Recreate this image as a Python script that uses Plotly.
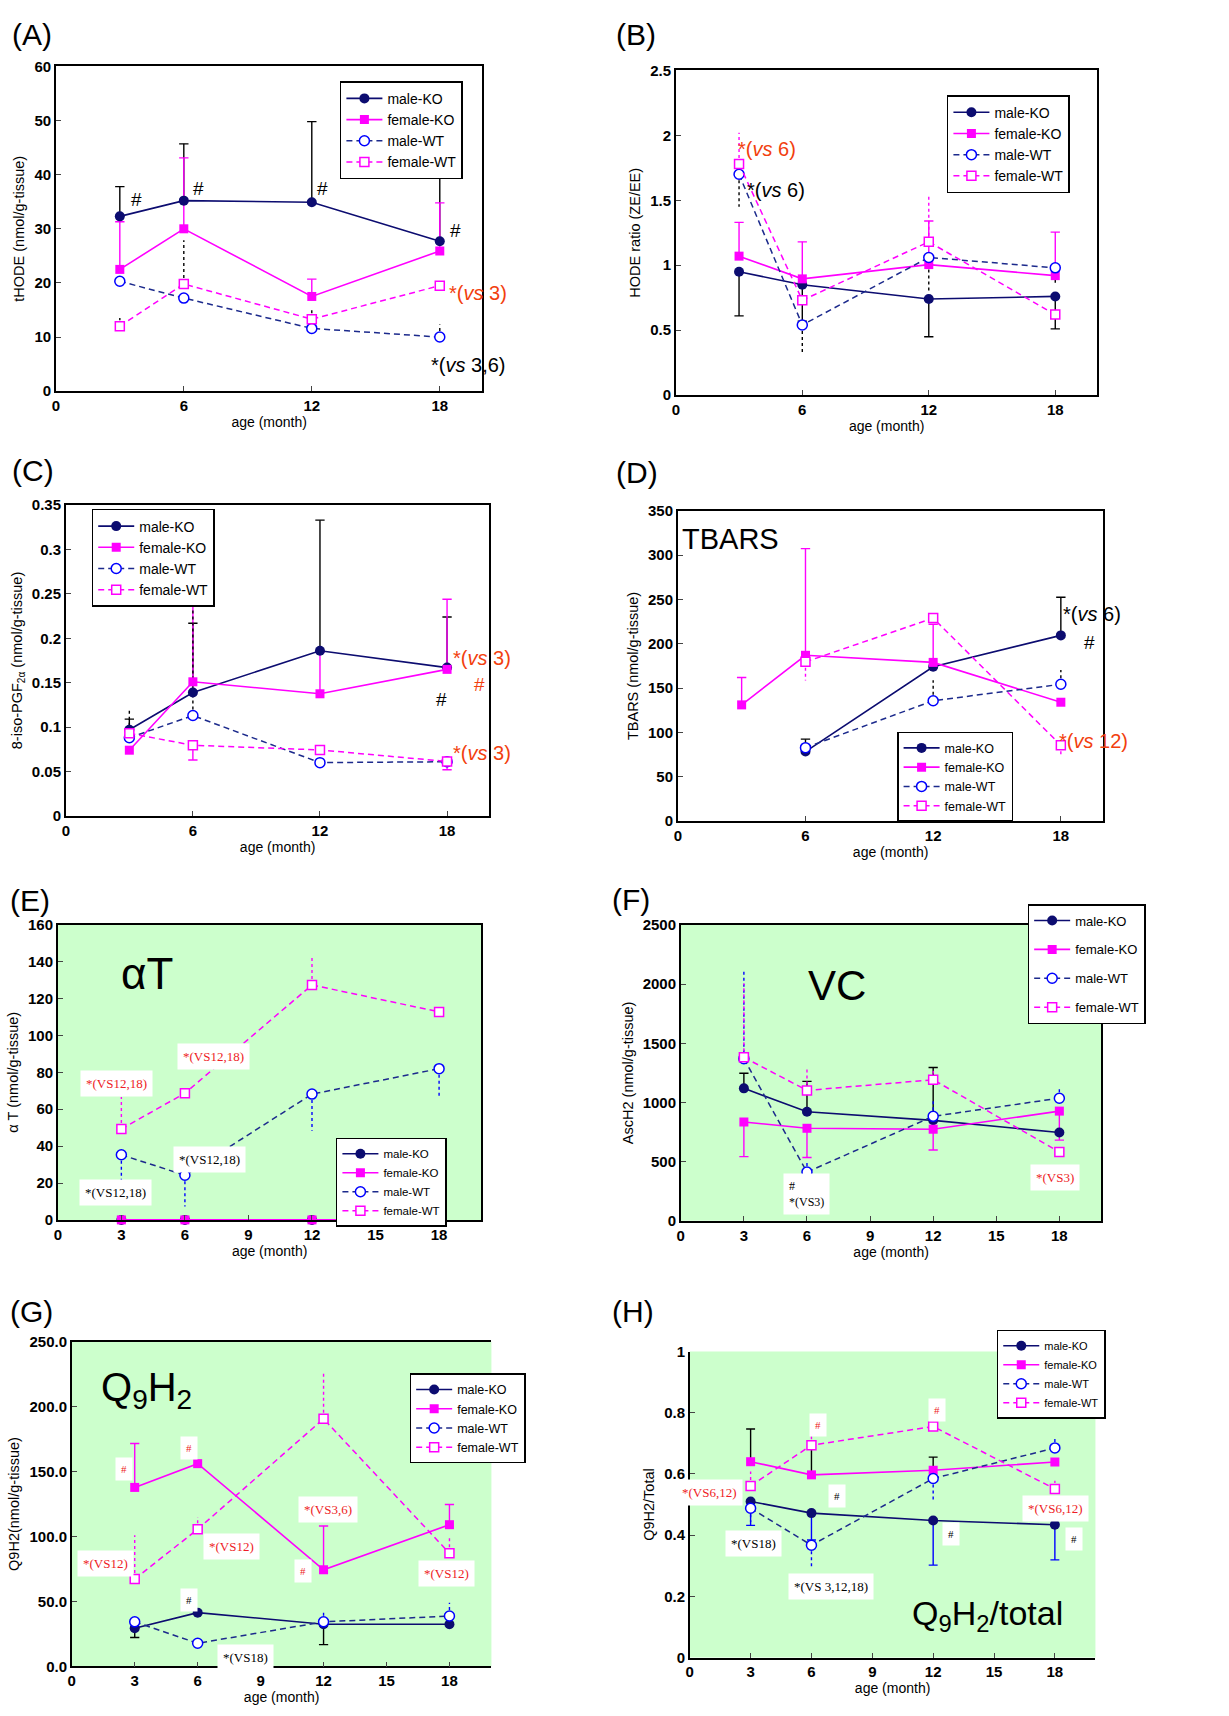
import plotly.graph_objects as go

W, H = 1229, 1716

AGES = [3, 6, 12, 18]
SERIES = ["male-KO", "female-KO", "male-WT", "female-WT"]
X_TICKS_AD = [0, 6, 12, 18]
X_TICKS_EH = [0, 3, 6, 9, 12, 15, 18]

# (A) tHODE
A_male_KO = [32.3, 35.2, 34.9, 27.7]
A_female_KO = [22.5, 30.0, 17.5, 25.9]
A_male_WT = [20.3, 17.2, 11.6, 10.0]
A_female_WT = [12.0, 19.8, 13.3, 19.5]
A_male_KO_sd = [5.5, 10.5, 14.9, 12.4]
A_female_KO_sd = [8.8, 13.1, 3.2, 8.9]
A_male_WT_sd = [None, None, None, 2.3]
A_female_WT_sd = [1.5, 8.1, 1.8, 1.0]

# (B) HODE ratio
B_male_KO = [0.95, 0.85, 0.74, 0.76]
B_female_KO = [1.07, 0.895, 1.005, 0.92]
B_male_WT = [1.70, 0.54, 1.06, 0.98]
B_female_WT = [1.78, 0.73, 1.18, 0.62]
B_male_KO_sd = [-0.34, -0.28, -0.29, -0.25]
B_female_KO_sd = [0.26, 0.285, 0.335, 0.335]
B_male_WT_sd = [-0.25, -0.22, -0.26, -0.12]
B_female_WT_sd = [0.24, None, 0.35, None]

# (C) 8-iso-PGF2a
C_male_KO = [0.097, 0.139, 0.186, 0.167]
C_female_KO = [0.074, 0.151, 0.1375, 0.165]
C_male_WT = [0.088, 0.113, 0.060, 0.061]
C_female_WT = [0.093, 0.0795, 0.0743, 0.0613]
C_male_KO_sd = [0.012, 0.078, 0.147, 0.057]
C_female_KO_sd = [None, 0.088, 0.047, 0.079]
C_male_WT_sd = [0.033, 0.12, None, None]
C_female_WT_sd = [None, -0.0165, None, -0.0093]

# (D) TBARS
D_male_KO = [None, 78.3, 174, 209.5]
D_female_KO = [131, 187, 179, 134]
D_male_WT = [None, 82.7, 135.7, 154.3]
D_female_WT = [None, 179.6, 229, 85.4]
D_male_KO_sd = [None, 14, None, 43]
D_female_KO_sd = [31, 120.5, 43, None]
D_male_WT_sd = [None, None, 23, 16]
D_female_WT_sd = [None, -21, None, -11]

# (E) alpha-T
E_male_KO = [0, 0, 0, 0]
E_female_KO = [0, 0, 0, 0]
E_male_WT = [35.3, 24.2, 68.2, 82.0]
E_female_WT = [49.3, 68.7, 127.4, 112.8]
E_male_KO_sd = [None, None, None, None]
E_female_KO_sd = [None, None, None, None]
E_male_WT_sd = [-13.8, -17.0, -19.8, -15.6]
E_female_WT_sd = [17.4, None, 15.6, None]

# (F) VC (AscH2)
F_male_KO = [1119, 921, 849, 746]
F_female_KO = [835, 782, 774, 927]
F_male_WT = [1370, 412, 883, 1036]
F_female_WT = [1381, 1102, 1192, 582]
F_male_KO_sd = [128, 257, 446, None]
F_female_KO_sd = [-292, -247, -175, -245]
F_male_WT_sd = [740, 100, 133, 97]
F_female_WT_sd = [623, 179, 89, None]

# (G) Q9H2
G_male_KO = [29.4, 41.4, 32.5, 32.5]
G_female_KO = [137.8, 156.1, 74.4, 109.1]
G_male_WT = [34.3, 17.8, 34.3, 38.8]
G_female_WT = [67.3, 105.6, 190.6, 87.1]
G_male_KO_sd = [-7.1, None, -15.7, None]
G_female_KO_sd = [33.8, None, 33.7, 15.5]
G_male_WT_sd = [None, -4.3, 8.8, 10.2]
G_female_WT_sd = [33.7, 9.4, 34.8, 13.9]

# (H) Q9H2/total
H_male_KO = [0.510, 0.472, 0.448, 0.434]
H_female_KO = [0.640, 0.597, 0.612, 0.639]
H_male_WT = [0.488, 0.367, 0.585, 0.685]
H_female_WT = [0.561, 0.694, 0.755, 0.551]
H_male_KO_sd = [-0.078, -0.088, -0.146, -0.115]
H_female_KO_sd = [0.107, 0.099, 0.043, None]
H_male_WT_sd = [-0.045, -0.07, -0.07, 0.037]
H_female_WT_sd = [0.047, 0.032, None, 0.027]

NAVY = "#0c0c70"
MAG = "#ff00ff"
BLUE = "#0000ff"
DNAVY = "#1c2a8c"
ORANGE = "#f2400e"
RED = "#ee1c25"
GREEN = "#ccffcc"

SANS = "Liberation Sans, Arial, sans-serif"
NARROW = "Liberation Sans Narrow, Arial Narrow, Liberation Sans, Arial, sans-serif"
SERIF = "Liberation Serif, Times New Roman, serif"

# layout of each panel (pixel boxes)
PANELS = [
    dict(k="A", box=(52, 58, 480, 386), yr=[0, 60], dt=10, xt=X_TICKS_AD, yfmt=None,
         yt="tHODE (nmol/g-tissue)", bg=None, mx=True, my=True,
         leg=(337, 73), lfs=14, gap=0, lab=(6, 26)),
    dict(k="B", box=(674, 62, 1097, 390), yr=[0, 2.5], dt=0.5, xt=X_TICKS_AD, yfmt=None,
         yt="HODE ratio (ZE/EE)", bg=None, mx=True, my=True,
         leg=(946, 87), lfs=14, gap=0, lab=(612, 26)),
    dict(k="C", box=(62, 501, 487, 815), yr=[0, 0.35], dt=0.05, xt=X_TICKS_AD, yfmt=None,
         yt="8-iso-PGF<sub>2α</sub> (nmol/g-tissue)", bg=None, mx=True, my=True,
         leg=(88, 505), lfs=14, gap=0, lab=(6, 466)),
    dict(k="D", box=(676, 507, 1103, 820), yr=[0, 350], dt=50, xt=X_TICKS_AD, yfmt=None,
         yt="TBARS (nmol/g-tissue)", bg=None, mx=True, my=True,
         leg=(896, 730), lfs=12.5, gap=0, lab=(612, 468)),
    dict(k="E", box=(54, 925, 479, 1223), yr=[0, 160], dt=20, xt=X_TICKS_EH, yfmt=None,
         yt="α T (nmol/g-tissue)", bg=GREEN, mx=True, my=True,
         leg=(333, 1140), lfs=11.5, gap=0, lab=(4, 900)),
    dict(k="F", box=(679, 925, 1101, 1224), yr=[0, 2500], dt=500, xt=X_TICKS_EH, yfmt=None,
         yt="AscH2 (nmol/g-tissue)", bg=GREEN, mx=True, my=True,
         leg=(1027, 904), lfs=13, gap=9, lab=(608, 899)),
    dict(k="G", box=(68, 1346, 489, 1674), yr=[0, 250], dt=50, xt=X_TICKS_EH, yfmt=".1f",
         yt="Q9H2(nmol/g-tissue)", bg=GREEN, mx=True, my=False,
         leg=(407, 1378), lfs=12.5, gap=0, lab=(4, 1316)),
    dict(k="H", box=(688, 1356, 1095, 1665), yr=[0, 1], dt=0.2, xt=X_TICKS_EH, yfmt=None,
         yt="Q9H2/Total", bg=GREEN, mx=False, my=False,
         leg=(996, 1334), lfs=11, gap=0, lab=(608, 1316)),
]

VALUES = {
    "A": [A_male_KO, A_female_KO, A_male_WT, A_female_WT],
    "B": [B_male_KO, B_female_KO, B_male_WT, B_female_WT],
    "C": [C_male_KO, C_female_KO, C_male_WT, C_female_WT],
    "D": [D_male_KO, D_female_KO, D_male_WT, D_female_WT],
    "E": [E_male_KO, E_female_KO, E_male_WT, E_female_WT],
    "F": [F_male_KO, F_female_KO, F_male_WT, F_female_WT],
    "G": [G_male_KO, G_female_KO, G_male_WT, G_female_WT],
    "H": [H_male_KO, H_female_KO, H_male_WT, H_female_WT],
}
SDS = {
    "A": [A_male_KO_sd, A_female_KO_sd, A_male_WT_sd, A_female_WT_sd],
    "B": [B_male_KO_sd, B_female_KO_sd, B_male_WT_sd, B_female_WT_sd],
    "C": [C_male_KO_sd, C_female_KO_sd, C_male_WT_sd, C_female_WT_sd],
    "D": [D_male_KO_sd, D_female_KO_sd, D_male_WT_sd, D_female_WT_sd],
    "E": [E_male_KO_sd, E_female_KO_sd, E_male_WT_sd, E_female_WT_sd],
    "F": [F_male_KO_sd, F_female_KO_sd, F_male_WT_sd, F_female_WT_sd],
    "G": [G_male_KO_sd, G_female_KO_sd, G_male_WT_sd, G_female_WT_sd],
    "H": [H_male_KO_sd, H_female_KO_sd, H_male_WT_sd, H_female_WT_sd],
}

SOLID_K = ("black", "solid", True)
SOLID_M = (MAG, "solid", True)
ERRSTYLE = {
    "A": [SOLID_K, SOLID_M, ("black", "dot", False), ("black", "dot", False)],
    "B": [SOLID_K, SOLID_M, ("black", "dot", False), (MAG, "dot", False)],
    "C": [SOLID_K, SOLID_M, ("black", "dot", False), SOLID_M],
    "D": [SOLID_K, SOLID_M, ("black", "dot", False), (MAG, "dot", False)],
    "E": [SOLID_K, SOLID_M, (BLUE, "dot", False), (MAG, "dot", False)],
    "F": [SOLID_K, SOLID_M, (BLUE, "dot", False), (MAG, "dot", False)],
    "G": [SOLID_K, SOLID_M, (BLUE, "dot", False), (MAG, "dot", False)],
    "H": [(BLUE, "solid", True), SOLID_K, (BLUE, "dot", False), (MAG, "dot", False)],
}

MAIN = [
    dict(line=dict(color=NAVY, width=1.6), marker=dict(symbol="circle", size=10, color=NAVY)),
    dict(line=dict(color=MAG, width=1.6), marker=dict(symbol="square", size=9, color=MAG)),
    dict(line=dict(color=DNAVY, width=1.5, dash="6px,4px"),
         marker=dict(symbol="circle", size=10, color="white", line=dict(color=BLUE, width=1.5))),
    dict(line=dict(color=MAG, width=1.5, dash="6px,4px"),
         marker=dict(symbol="square", size=9, color="white", line=dict(color=MAG, width=1.5))),
]


def tx(t, size, color="black", fam=SANS):
    return dict(text=t, size=size, color=color, family=fam)


VS = "*(<i>vs</i> "
ANN = {
    "A": [tx("#", 19) | dict(x=3.78, y=35.4), tx("#", 19) | dict(x=6.7, y=37.4),
          tx("#", 19) | dict(x=12.5, y=37.4), tx("#", 19) | dict(x=18.73, y=29.6),
          tx(VS + "3)", 20, ORANGE) | dict(x=19.79, y=18.1),
          tx(VS + "3,6)", 20) | dict(x=19.32, y=4.8)],
    "B": [tx(VS + "6)", 20, ORANGE) | dict(x=4.31, y=1.895),
          tx(VS + "6)", 20) | dict(x=4.74, y=1.58)],
    "C": [tx(VS + "3)", 20, ORANGE) | dict(x=19.64, y=0.178),
          tx("#", 19, ORANGE) | dict(x=19.53, y=0.1475),
          tx("#", 19) | dict(x=17.76, y=0.131),
          tx(VS + "3)", 20, ORANGE) | dict(x=19.64, y=0.071)],
    "D": [tx("TBARS", 29, fam=NARROW) | dict(x=2.47, y=318.7),
          tx(VS + "6)", 20) | dict(x=19.48, y=233.7),
          tx("#", 19) | dict(x=19.34, y=202),
          tx(VS + "12)", 20, ORANGE) | dict(x=19.53, y=90)],
    "E": [tx("αT", 44) | dict(x=4.23, y=133.6),
          tx("*(VS12,18)", 13, RED, SERIF) | dict(x=2.75, y=74.1, box=True),
          tx("*(VS12,18)", 13, RED, SERIF) | dict(x=7.36, y=88.4, box=True),
          tx("*(VS12,18)", 13, "black", SERIF) | dict(x=7.16, y=32.6, box=True),
          tx("*(VS12,18)", 13, "black", SERIF) | dict(x=2.71, y=14.9, box=True)],
    "F": [tx("VC", 42) | dict(x=7.43, y=1990),
          tx("#<br>*(VS3)", 12, "black", SERIF) | dict(x=6.0, y=228, box=True),
          tx("*(VS3)", 13, RED, SERIF) | dict(x=17.8, y=365, box=True)],
    "G": [tx("Q<sub>9</sub>H<sub>2</sub>", 40) | dict(x=3.58, y=212.7),
          tx("#", 11, RED, SERIF) | dict(x=2.49, y=152.3, box=True),
          tx("#", 11, RED, SERIF) | dict(x=5.59, y=167.8, box=True),
          tx("#", 11, RED, SERIF) | dict(x=11.0, y=73.1, box=True),
          tx("#", 11, "black", SERIF) | dict(x=5.57, y=51, box=True),
          tx("*(VS12)", 13, RED, SERIF) | dict(x=1.62, y=79.4, box=True),
          tx("*(VS12)", 13, RED, SERIF) | dict(x=7.61, y=92.1, box=True),
          tx("*(VS3,6)", 13, RED, SERIF) | dict(x=12.19, y=120.6, box=True),
          tx("*(VS12)", 13, RED, SERIF) | dict(x=17.86, y=71.3, box=True),
          tx("*(VS18)", 13, "black", SERIF) | dict(x=8.3, y=7.1, box=True)],
    "H": [tx("#", 11, RED, SERIF) | dict(x=6.33, y=0.759, box=True),
          tx("#", 11, RED, SERIF) | dict(x=12.21, y=0.808, box=True),
          tx("#", 11, "black", SERIF) | dict(x=7.24, y=0.527, box=True),
          tx("#", 11, "black", SERIF) | dict(x=12.9, y=0.403, box=True),
          tx("#", 11, "black", SERIF) | dict(x=18.95, y=0.387, box=True),
          tx("*(VS6,12)", 13, RED, SERIF) | dict(x=0.97, y=0.54, box=True),
          tx("*(VS18)", 13, "black", SERIF) | dict(x=3.13, y=0.373, box=True),
          tx("*(VS 3,12,18)", 13, "black", SERIF) | dict(x=6.96, y=0.233, box=True),
          tx("*(VS6,12)", 13, RED, SERIF) | dict(x=18.05, y=0.487, box=True),
          tx("Q<sub>9</sub>H<sub>2</sub>/total", 34) | dict(x=14.67, y=0.136)],
}

fig = go.Figure()
layout = dict(width=W, height=H, margin=dict(l=0, r=0, t=0, b=0),
              paper_bgcolor="white", plot_bgcolor="white", showlegend=True)
annotations = []
shapes = []

TICKFONT = dict(family=SANS, size=15, color="black", weight="bold")


def err_path(vals, sds, cap, capw):
    xs, ys = [], []
    for x, v, e in zip(AGES, vals, sds):
        if v is None or e is None:
            continue
        xs += [x, x, None]
        ys += [v, v + e, None]
        if cap:
            xs += [x - capw, x + capw, None]
            ys += [v + e, v + e, None]
    return xs, ys


for i, p in enumerate(PANELS, start=1):
    k = p["k"]
    xa = "x" if i == 1 else f"x{i}"
    ya = "y" if i == 1 else f"y{i}"
    lg = "legend" if i == 1 else f"legend{i}"
    l, t, r, b = p["box"]
    xdom = [l / W, r / W]
    ydom = [1 - b / H, 1 - t / H]
    axkey = "" if i == 1 else str(i)
    layout["xaxis" + axkey] = dict(
        domain=xdom, anchor=ya, range=[0, 20], tickvals=p["xt"], ticks="inside", ticklen=5,
        showgrid=False, zeroline=False, showline=True, linecolor="black", linewidth=1.5,
        mirror=p["mx"], tickfont=TICKFONT,
        title=dict(text="age (month)", font=dict(family=SANS, size=14, color="black"), standoff=2),
    )
    layout["yaxis" + axkey] = dict(
        domain=ydom, anchor=xa, range=p["yr"], dtick=p["dt"], tick0=0, ticks="inside", ticklen=5,
        showgrid=False, zeroline=False, showline=True, linecolor="black", linewidth=1.5,
        mirror=p["my"], tickfont=TICKFONT, tickformat=p["yfmt"],
        title=dict(text=p["yt"], font=dict(family=SANS, size=14.5, color="black"), standoff=6),
    )
    if p["bg"]:
        shapes.append(dict(type="rect", xref=f"{xa} domain", yref=f"{ya} domain",
                           x0=0, x1=1, y0=0, y1=1, fillcolor=p["bg"], line=dict(width=0),
                           layer="below"))
    lx, ly = p["leg"]
    layout[lg] = dict(x=lx / W, y=1 - ly / H, xanchor="left", yanchor="top",
                      bgcolor="white", bordercolor="black", borderwidth=1.5,
                      font=dict(family=SANS, size=p["lfs"], color="black"),
                      tracegroupgap=p["gap"], itemwidth=36)
    # error bars
    for s in range(4):
        color, dash, cap = ERRSTYLE[k][s]
        xs, ys = err_path(VALUES[k][s], SDS[k][s], cap, 0.22)
        if xs:
            fig.add_trace(go.Scatter(x=xs, y=ys, mode="lines", xaxis=xa, yaxis=ya,
                                     line=dict(color=color, width=1.4, dash=dash),
                                     showlegend=False, hoverinfo="skip", cliponaxis=False))
    # main series
    for s in range(4):
        st = MAIN[s]
        fig.add_trace(go.Scatter(x=AGES, y=VALUES[k][s], name=SERIES[s], mode="lines+markers",
                                 xaxis=xa, yaxis=ya, legend=lg, legendgroup=f"{k}{s}",
                                 line=st["line"], marker=st["marker"], cliponaxis=False))
    # panel label
    lbx, lby = p["lab"]
    annotations.append(dict(text=f"({k})", x=lbx / W, y=1 - lby / H, xref="paper", yref="paper",
                            xanchor="left", yanchor="middle", showarrow=False,
                            font=dict(family=SANS, size=30, color="black")))
    for a in ANN[k]:
        d = dict(text=a["text"], x=a["x"], y=a["y"], xref=xa, yref=ya, showarrow=False,
                 xanchor="center", yanchor="middle",
                 font=dict(family=a["family"], size=a["size"], color=a["color"]))
        if a.get("box"):
            d.update(bgcolor="white", borderpad=5, align="left")
        annotations.append(d)

layout["annotations"] = annotations
layout["shapes"] = shapes
fig.update_layout(**layout)
fig.write_html("out.html")
